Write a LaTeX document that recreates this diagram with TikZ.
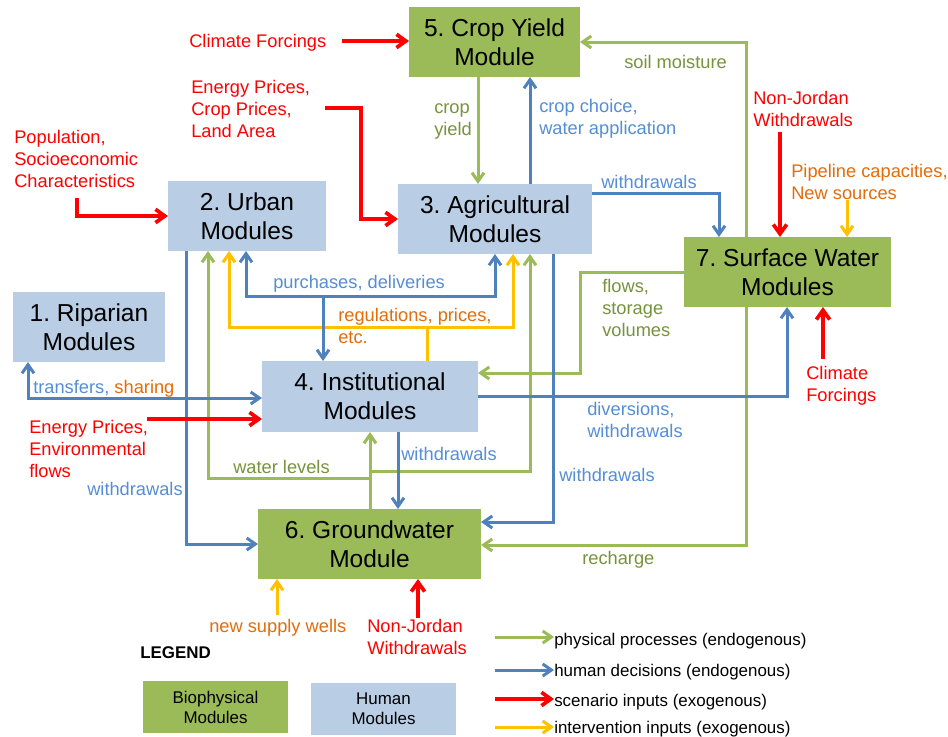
\documentclass[tikz,border=0pt]{standalone}
\usepackage{fontspec}
\setmainfont{Liberation Sans}
\usetikzlibrary{arrows.meta}

\definecolor{bioGreen}{HTML}{9BBB59}
\definecolor{humBlue}{HTML}{B9CDE5}
\definecolor{decBlue}{HTML}{4F81BD}
\definecolor{txtBlue}{HTML}{558ED5}
\definecolor{txtGreen}{HTML}{77933C}
\definecolor{txtOrange}{HTML}{E46C0A}
\definecolor{inYellow}{HTML}{FFC000}
\definecolor{inRed}{HTML}{FF0000}

\newcommand\lblfont{\fontsize{13.7}{16.5}\selectfont}
\newcommand\modfont{\fontsize{18.4}{21.75}\selectfont}
\newcommand\legfont{\fontsize{12.7}{15}\selectfont}
\frenchspacing

\begin{document}
\begin{tikzpicture}[x=0.75pt,y=-0.75pt,
  >={Straight Barb[length=6.5pt,width=9pt]},
  module/.style={inner sep=0, outer sep=0, align=center, font=\modfont},
  biobox/.style={module, fill=bioGreen},
  humbox/.style={module, fill=humBlue},
  % multi-line labels sit on the baseline of their last line
  lbl/.style={inner sep=0, anchor=base west, align=left, font=\lblfont},
  keytext/.style={inner sep=0, anchor=base west, font=\legfont},
  phys/.style={draw=bioGreen, line width=2.25pt},
  human/.style={draw=decBlue, line width=2.25pt},
  interv/.style={draw=inYellow, line width=2.25pt},
  scen/.style={draw=inRed, line width=2.8pt, >={Straight Barb[length=7pt,width=10pt]}},
]
\fill[white] (0,0) rectangle (948,736);
\useasboundingbox (0,0) rectangle (948,736);

% ---- modules ----
\node[biobox, minimum width=128.25pt, minimum height=52.5pt] (crop) at (494.5,42) {5. Crop Yield\\Module};
\node[humbox, minimum width=118.5pt, minimum height=52.5pt] (urban) at (247,216) {2. Urban\\Modules};
\node[humbox, minimum width=145.5pt, minimum height=52.5pt] (agri) at (495,219) {3. Agricultural\\Modules};
\node[humbox, minimum width=114pt, minimum height=52.5pt] (ripa) at (89,327) {1. Riparian\\Modules};
\node[humbox, minimum width=162pt, minimum height=53.25pt] (inst) at (370,396.5) {4. Institutional\\Modules};
\node[biobox, minimum width=155.25pt, minimum height=52.5pt] (surf) at (787.5,272) {7. Surface Water\\Modules};
\node[biobox, minimum width=167.25pt, minimum height=52.5pt] (ground) at (369.5,544) {6. Groundwater\\Module};

% ---- labels ----
\node[lbl, text=inRed] (cfT1) at (189,47) {Climate Forcings};
\node[lbl, text=inRed] (epT) at (191,137) {Energy Prices,\\Crop Prices,\\Land Area};
\node[lbl, text=inRed] (popT) at (14,187) {Population,\\Socioeconomic\\Characteristics};
\node[lbl, text=txtGreen] (cyT) at (434,135) {crop\\yield};
\node[lbl, text=txtBlue] (ccT) at (539,134) {crop choice,\\water application};
\node[lbl, text=txtGreen] (smT) at (624,68) {soil moisture};
\node[lbl, text=txtBlue] (wdT1) at (601,188) {withdrawals};
\node[lbl, text=inRed] (njT1) at (753,126) {Non-Jordan\\Withdrawals};
\node[lbl, text=txtOrange] (pipeT) at (791,199) {Pipeline capacities,\\New sources};
\node[lbl, text=txtBlue] (pdT) at (273,288) {purchases, deliveries};
\node[lbl, text=txtOrange] (rgT) at (338,343) {regulations, prices,\\etc.};
\node[lbl, text=txtGreen] (flT) at (602,336) {flows,\\storage\\volumes};
\node[lbl, text=txtBlue] (trT) at (33,393) {transfers, \textcolor{txtOrange}{sharing}};
\node[lbl, text=inRed] (efT) at (29,477) {Energy Prices,\\Environmental\\flows};
\node[lbl, text=txtBlue] (dvT) at (587,437) {diversions,\\withdrawals};
\node[lbl, text=inRed] (cfT2) at (806,401) {Climate\\Forcings};
\node[lbl, text=txtGreen] (wlT) at (233,473) {water levels};
\node[lbl, text=txtBlue] (wdT2) at (401,460) {withdrawals};
\node[lbl, text=txtBlue] (wdT3) at (559,481) {withdrawals};
\node[lbl, text=txtBlue] (wdT4) at (87,495) {withdrawals};
\node[lbl, text=txtGreen] (rcT) at (582,564) {recharge};
\node[lbl, text=txtOrange] (nswT) at (209,632) {new supply wells};
\node[lbl, text=inRed] (njT2) at (367,654) {Non-Jordan\\Withdrawals};

% ---- physical processes ----
\draw[phys,->] (crop.south -| 478,0) -- (agri.north -| 478,0);
\draw[phys,->] (surf.north -| 746,0) |- (crop.east);
\draw[phys,->] (surf.west) -| (580,373) -- (inst.east |- 0,373);
\draw[phys,->] (surf.south -| 746,0) |- (ground.east |- 0,545);
\draw[phys,->] (ground.north -| 370,0) -- (inst.south -| 370,0);
\coordinate (wlL) at (370,478);
\coordinate (wlR) at (370,471);
\draw[phys,->] (wlL) -| (urban.south -| 208,0);
\draw[phys,->] (wlR) -| (agri.south -| 530,0);

% ---- intervention inputs ----
\coordinate (regJ) at (427,327);
\draw[interv] (inst.north -| regJ) -- (regJ);
\draw[interv,->] (regJ) -| (urban.south -| 229,0);
\draw[interv,->] (regJ) -| (agri.south -| 513,0);
\coordinate (pipeA) at (847,200);
\draw[interv,->] (pipeA) -- (surf.north -| pipeA);
\coordinate (wellA) at (277,615);
\draw[interv,->] (wellA) -- (ground.south -| wellA);

% ---- human decisions ----
\draw[human,->] (agri.north -| 530,0) -- (crop.south -| 530,0);
\draw[human,->] (agri.east |- 0,193) -| (surf.north -| 719,0);
\draw[human,->] (inst.east) -| (surf.south -| 787,0);
\draw[human,->] (agri.south -| 553,0) |- (ground.east |- 0,522);
\coordinate (buyJ) at (323,296);
\draw[human,->] (buyJ) -- (inst.north -| buyJ);
\draw[human,->] (buyJ) -| (urban.south -| 246,0);
\draw[human,->] (buyJ) -| (agri.south -| 495,0);
\draw[human,->] (urban.south -| 186,0) |- (ground.west);
\draw[human,->] (inst.south -| 398,0) -- (ground.north -| 398,0);
\draw[human,<->] (ripa.south -| 28,0) |- (inst.west |- 0,398);

% ---- scenario inputs ----
\coordinate (cfA) at (342,41);
\draw[scen,->] (cfA) -- (cfA -| crop.west);
\coordinate (epA) at (325,108);
\draw[scen,->] (epA) -| (agri.west -| 361,0) -- (agri.west);
\coordinate (popA) at (77,198);
\draw[scen,->] (popA) |- (urban.west);
\coordinate (nj1A) at (780,132);
\draw[scen,->] (nj1A) -- (surf.north -| nj1A);
\coordinate (cf2A) at (823,359);
\draw[scen,->] (cf2A) -- (surf.south -| cf2A);
\coordinate (efA) at (147,419);
\draw[scen,->] (efA) -- (inst.west |- efA);
\coordinate (nj2A) at (418,618);
\draw[scen,->] (nj2A) -- (ground.south -| nj2A);

% ---- legend ----
\node[inner sep=0, anchor=base west, font=\legfont\bfseries] (legT) at (140,658) {LEGEND};
\node[biobox, font=\legfont, minimum width=108.75pt, minimum height=39pt] (bioKey) at (215.5,707) {Biophysical\\Modules};
\node[humbox, font=\legfont, minimum width=108.75pt, minimum height=39pt] (humKey) at (383.5,709) {Human\\Modules};
\node[keytext] (keyT1) at (554,645) {physical processes (endogenous)};
\node[keytext] (keyT2) at (554,676) {human decisions (endogenous)};
\node[keytext] (keyT3) at (554,706) {scenario inputs (exogenous)};
\node[keytext] (keyT4) at (554,733) {intervention inputs (exogenous)};
\coordinate (key1) at (495,637);
\coordinate (key2) at (495,670);
\coordinate (key3) at (495,699);
\coordinate (key4) at (495,727);
\draw[phys,->] (key1) -- (key1 -| keyT1.west);
\draw[human,->] (key2) -- (key2 -| keyT2.west);
\draw[scen,->] (key3) -- (key3 -| keyT3.west);
\draw[interv,->] (key4) -- (key4 -| keyT4.west);
\end{tikzpicture}
\end{document}
